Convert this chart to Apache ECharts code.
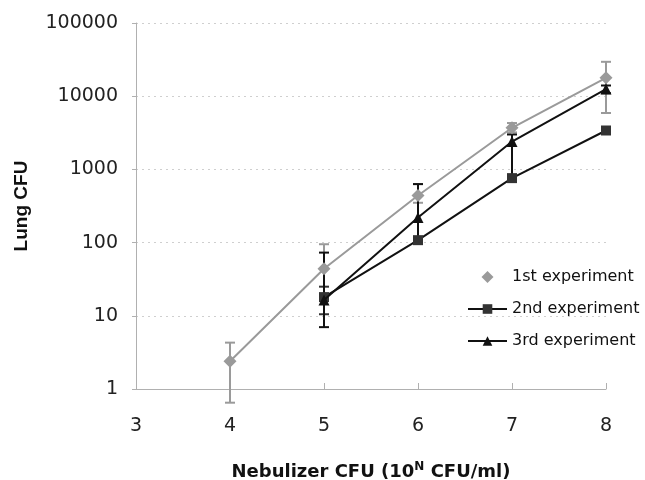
<!DOCTYPE html>
<html>
<head>
<meta charset="utf-8">
<script src="https://cdn.jsdelivr.net/npm/echarts@6/dist/echarts.min.js"></script>
<style>
  html, body { margin: 0; padding: 0; background: #fff; }
  #chart { width: 645px; height: 480px; }
</style>
</head>
<body>
<div id="chart"></div>
<script>
// values (log scale)
const exp1X = [4, 5, 6, 7, 8]
const exp1Y = [2.4, 44, 440, 3700, 17800]
const exp1Low = [0.65, 20, 350, 3200, 5900]
const exp1High = [4.3, 95, 630, 4300, 29500]

const exp2X = [5, 6, 7, 8]
const exp2Y = [18, 108, 760, 3400]
const exp2Low = [10.5, null, null, null]
const exp2High = [25, null, null, null]

const exp3X = [5, 6, 7, 8]
const exp3Y = [16.5, 220, 2400, 12500]
const exp3Low = [7, 110, 780, 11000]
const exp3High = [73, 630, 3000, 14000]

const yTicks = [1, 10, 100, 1000, 10000, 100000]
const xTicks = [3, 4, 5, 6, 7, 8]

const names = ['1st experiment', '2nd experiment', '3rd experiment']
const colors = { grey: '#9a9a9a', dark: '#333333', black: '#111111', axis: '#b0b0b0', grid: '#cfcfcf' }
const wideFont = 'DejaVu Sans, sans-serif'

function pairs(xs, ys) {
    return xs.map((x, i) => [x, ys[i]])
}

function errorData(xs, lows, highs) {
    return xs.map((x, i) => [x, lows[i], highs[i]]).filter((d) => d[1] != null)
}

function errorSeries(data, color) {
    return {
        type: 'custom',
        data: data,
        silent: true,
        clip: false,
        z: 1,
        renderItem: (params, api) => {
            const top = api.coord([api.value(0), api.value(2)])
            const bot = api.coord([api.value(0), api.value(1)])
            const w = 5
            const style = { stroke: color, lineWidth: 2 }
            return {
                type: 'group',
                children: [
                    { type: 'line', shape: { x1: top[0], y1: top[1], x2: bot[0], y2: bot[1] }, style },
                    { type: 'line', shape: { x1: top[0] - w, y1: top[1], x2: top[0] + w, y2: top[1] }, style },
                    { type: 'line', shape: { x1: bot[0] - w, y1: bot[1], x2: bot[0] + w, y2: bot[1] }, style },
                ],
            }
        },
    }
}

const chart = echarts.init(document.getElementById('chart'))
chart.setOption({
    animation: false,
    textStyle: { fontFamily: 'Liberation Sans, Arial, sans-serif' },
    grid: { left: 136, right: 39, top: 23, bottom: 91, outerBoundsMode: 'none', containLabel: false },
    legend: {
        orient: 'vertical',
        left: 467,
        top: 269,
        padding: 0,
        itemGap: 16,
        itemWidth: 39,
        itemHeight: 12,
        symbolKeepAspect: true,
        textStyle: { fontSize: 16, color: '#111', fontFamily: wideFont },
        data: [
            { name: names[0], icon: 'path://M0,6L6,0L12,6L6,12Z', itemStyle: { color: colors.grey } },
            names[1],
            names[2],
        ],
    },
    xAxis: {
        type: 'value',
        min: xTicks[0],
        max: xTicks[xTicks.length - 1],
        interval: 1,
        name: '{a|Nebulizer CFU (10}{sup|N}{a| CFU/ml)}',
        nameLocation: 'middle',
        nameGap: 72,
        nameTextStyle: {
            rich: {
                a: { fontSize: 18, fontWeight: 'bold', color: '#111', fontFamily: wideFont },
                sup: { fontSize: 12, fontWeight: 'bold', color: '#111', fontFamily: wideFont, verticalAlign: 'top', padding: [0, 0, 10, 0] },
            },
        },
        axisLine: { lineStyle: { color: colors.axis, width: 1 } },
        axisTick: { inside: true, length: 6, lineStyle: { color: colors.axis } },
        axisLabel: { fontSize: 19, color: '#222', margin: 28, fontFamily: wideFont },
        splitLine: { show: false },
    },
    yAxis: {
        type: 'log',
        logBase: 10,
        min: yTicks[0],
        max: yTicks[yTicks.length - 1],
        name: 'Lung CFU',
        nameLocation: 'middle',
        nameGap: 105,
        nameTextStyle: { fontSize: 19, fontWeight: 'bold', color: '#111' },
        axisLine: { show: true, lineStyle: { color: colors.axis, width: 1 } },
        axisTick: { show: true, length: 4, lineStyle: { color: colors.axis } },
        axisLabel: { fontSize: 19, color: '#222', margin: 18, fontFamily: wideFont, formatter: (v) => String(v) },
        splitLine: { show: true, lineStyle: { color: colors.grid, type: [2, 4] } },
    },
    series: [
        errorSeries(errorData(exp1X, exp1Low, exp1High), colors.grey),
        errorSeries(errorData(exp2X, exp2Low, exp2High), colors.dark),
        errorSeries(errorData(exp3X, exp3Low, exp3High), colors.black),
        {
            name: names[0],
            type: 'line',
            data: pairs(exp1X, exp1Y),
            symbol: 'diamond',
            symbolSize: 13,
            z: 3,
            lineStyle: { color: colors.grey, width: 2 },
            itemStyle: { color: colors.grey },
        },
        {
            name: names[1],
            type: 'line',
            data: pairs(exp2X, exp2Y),
            symbol: 'rect',
            symbolSize: 10,
            z: 4,
            lineStyle: { color: colors.black, width: 2 },
            itemStyle: { color: colors.dark },
        },
        {
            name: names[2],
            type: 'line',
            data: pairs(exp3X, exp3Y),
            symbol: 'triangle',
            symbolSize: 11,
            z: 5,
            lineStyle: { color: colors.black, width: 2 },
            itemStyle: { color: colors.black },
        },
    ],
})
</script>
</body>
</html>
